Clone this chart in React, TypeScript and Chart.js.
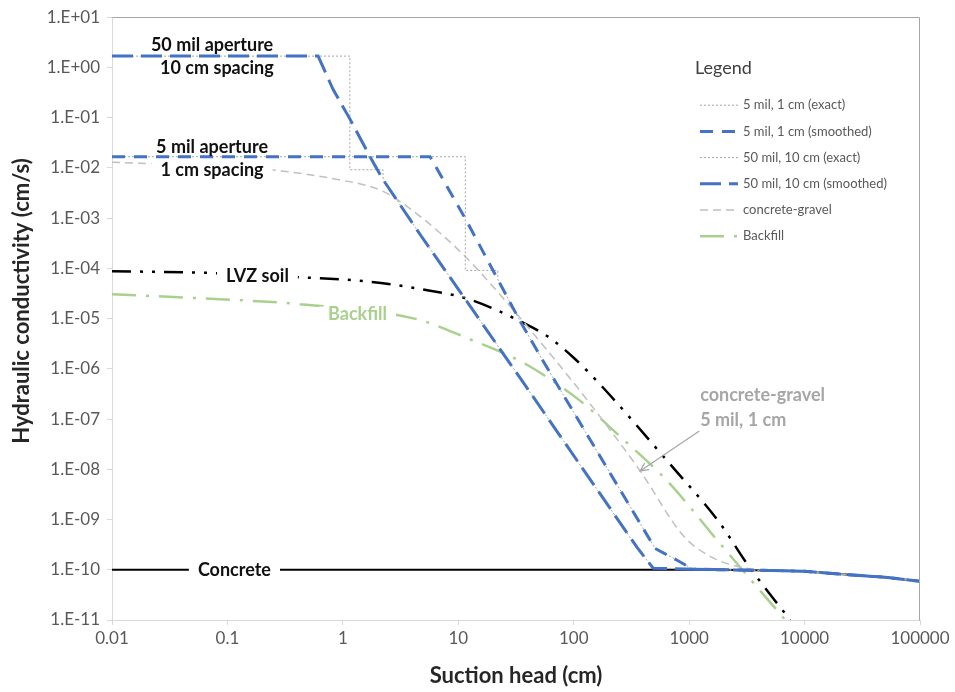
import React, { useEffect, useRef } from 'react';
import { Chart, registerables } from 'chart.js';

Chart.register(...registerables);

const FONT = "Lato, 'Open Sans', sans-serif";
const BLUE = '#4472C4';
const GREEN = '#A9D18E';
const EXACT_GRAY = '#A6A6A6';
const GRAVEL_GRAY = '#C0C0C0';

// Axis ticks
const xTickValues = [0.01, 0.1, 1, 10, 100, 1000, 10000, 100000];
const xTickLabels = ['0.01', '0.1', '1', '10', '100', '1000', '10000', '100000'];
const yTickValues = [1e-11, 1e-10, 1e-9, 1e-8, 1e-7, 1e-6, 1e-5, 1e-4, 1e-3, 1e-2, 1e-1, 1e0, 1e1];
const yTickLabels = ['1.E-11', '1.E-10', '1.E-09', '1.E-08', '1.E-07', '1.E-06', '1.E-05', '1.E-04', '1.E-03', '1.E-02', '1.E-01', '1.E+00', '1.E+01'];

// Concrete (suction head cm, K cm/s)
const concreteH = [0.01, 2000, 5000, 10000, 20000, 50000, 100000];
const concreteK = [1e-10, 1e-10, 9.7e-11, 9.3e-11, 8.2e-11, 7.1e-11, 5.9e-11];

// 5 mil aperture, 1 cm spacing
const fiveExactH = [0.01, 11.5, 11.5, 22, 22, 34.3, 54.3, 507, 787, 1084];
const fiveExactK = [0.0167, 0.0167, 9.1e-5, 9.1e-5, 6.0e-5, 8.9e-6, 1.43e-6, 2.66e-10, 1.55e-10, 1.02e-10];
const fiveSmoothH = [0.01, 5.7, 11.9, 34.3, 54.3, 507, 787, 1084];
const fiveSmoothK = [0.0167, 0.0167, 8.5e-4, 8.9e-6, 1.43e-6, 2.66e-10, 1.55e-10, 1.02e-10];

// 50 mil aperture, 10 cm spacing
const fiftyExactH = [0.01, 1.15, 1.15, 2.23, 2.23, 4.67, 34.3, 354, 488];
const fiftyExactK = [1.68, 1.68, 9.2e-3, 9.2e-3, 5.83e-3, 4.73e-4, 6.6e-7, 2.78e-10, 1.07e-10];
const fiftySmoothH = [0.01, 0.61, 0.82, 1.15, 1.72, 2.23, 4.67, 34.3, 354, 488];
const fiftySmoothK = [1.68, 1.68, 0.372, 0.0946, 0.0167, 5.83e-3, 4.73e-4, 6.6e-7, 2.78e-10, 1.07e-10];

// concrete-gravel
const gravelH = [0.01, 0.19, 0.82, 2.23, 4.67, 11.0, 21.7, 65, 139, 376, 887, 1520, 2600];
const gravelK = [0.013, 9.6e-3, 6.1e-3, 3.4e-3, 1.08e-3, 1.9e-4, 3.5e-5, 1.78e-6, 2.0e-7, 9.3e-9, 4.8e-10, 1.85e-10, 1.17e-10];

// Backfill
const backfillH = [0.01, 0.058, 0.426, 4.4, 11.9, 34.3, 60, 114, 252, 644, 1857, 6800];
const backfillK = [3.05e-5, 2.54e-5, 1.93e-5, 9.7e-6, 4.1e-6, 1.43e-6, 6.6e-7, 2.3e-7, 4.5e-8, 5.9e-9, 3.3e-10, 1e-11];

// LVZ soil
const lvzH = [0.01, 0.0706, 0.452, 1.62, 4.95, 11.9, 34.3, 62.4, 100, 180, 644, 1857, 3185, 7500];
const lvzK = [8.8e-5, 8.1e-5, 6.6e-5, 5.5e-5, 3.8e-5, 2.5e-5, 8.9e-6, 4.1e-6, 1.66e-6, 4.2e-7, 1.48e-8, 8.3e-10, 1.3e-10, 1e-11];

// Annotations (text placed at data coordinates)
const annotationTexts = ['50 mil aperture', '10 cm spacing', '5 mil aperture', '1 cm spacing', 'LVZ soil', 'Backfill', 'Concrete', 'concrete-gravel', '5 mil, 1 cm'];
const annotationH = [0.0736, 0.081, 0.0736, 0.0736, 0.182, 1.34, 0.115, 1245, 1245];
const annotationK = [2.78, 0.97, 0.0264, 9.2e-3, 6.9e-5, 1.2e-5, 1e-10, 3.0e-7, 9.6e-8];
const annotationColors = ['#111', '#111', '#111', '#111', '#111', GREEN, '#111', '#A6A6A6', '#A6A6A6'];
const annotationBg = [false, false, false, true, true, true, true, false, false];
const annotationLeftAligned = [false, false, false, false, false, false, false, true, true];
const arrowFromH = 1226;
const arrowFromK = 5.8e-8;
const arrowToH = 376;
const arrowToK = 9.3e-9;

function pts(h: number[], k: number[]) {
  return h.map((x, i) => ({ x, y: k[i] }));
}
function withTail(h: number[], k: number[]) {
  const last = h[h.length - 1];
  const th: number[] = [];
  const tk: number[] = [];
  concreteH.forEach((x, i) => {
    if (x > last) {
      th.push(x);
      tk.push(concreteK[i]);
    }
  });
  return pts([...h, ...th], [...k, ...tk]);
}

const LEGEND_COUNT = 6;

const extrasPlugin = {
  id: 'extras',
  afterDatasetsDraw(chart: any) {
    const { ctx, chartArea, scales } = chart;
    const xs = scales.x;
    const ys = scales.y;
    ctx.save();
    // plot area border (top and right)
    const L = Math.round(chartArea.left) + 0.5;
    const T = Math.round(chartArea.top) + 0.5;
    const R = Math.round(chartArea.right) - 0.5;
    const B = Math.round(chartArea.bottom) + 0.5;
    ctx.strokeStyle = '#a6a6a6';
    ctx.lineWidth = 1;
    ctx.setLineDash([]);
    ctx.beginPath();
    ctx.moveTo(L, T);
    ctx.lineTo(R, T);
    ctx.lineTo(R, B);
    ctx.stroke();

    // annotations
    annotationTexts.forEach((t, i) => {
      const px = xs.getPixelForValue(annotationH[i]);
      const py = ys.getPixelForValue(annotationK[i]);
      ctx.font = `bold 18px ${FONT}`;
      const w = ctx.measureText(t).width;
      const left = annotationLeftAligned[i] ? px : px - w / 2;
      if (annotationBg[i]) {
        ctx.fillStyle = '#ffffff';
        ctx.fillRect(left - 9, py - 8, w + 18, 16);
      }
      ctx.fillStyle = annotationColors[i];
      ctx.textAlign = 'left';
      ctx.textBaseline = 'middle';
      ctx.fillText(t, left, py);
    });

    // arrow
    const ax0 = xs.getPixelForValue(arrowFromH);
    const ay0 = ys.getPixelForValue(arrowFromK);
    const ax1 = xs.getPixelForValue(arrowToH);
    const ay1 = ys.getPixelForValue(arrowToK);
    ctx.strokeStyle = '#A6A6A6';
    ctx.lineWidth = 1.2;
    ctx.beginPath();
    ctx.moveTo(ax0, ay0);
    ctx.lineTo(ax1, ay1);
    const ang = Math.atan2(ay1 - ay0, ax1 - ax0);
    const hl = 9;
    ctx.moveTo(ax1 - hl * Math.cos(ang - 0.45), ay1 - hl * Math.sin(ang - 0.45));
    ctx.lineTo(ax1, ay1);
    ctx.lineTo(ax1 - hl * Math.cos(ang + 0.45), ay1 - hl * Math.sin(ang + 0.45));
    ctx.stroke();

    // legend
    const lx = chartArea.right - 220;
    ctx.fillStyle = '#404040';
    ctx.font = `18px ${FONT}`;
    ctx.textAlign = 'left';
    ctx.textBaseline = 'middle';
    ctx.fillText('Legend', lx - 5, chartArea.top + 51);
    chart.data.datasets.slice(0, LEGEND_COUNT).forEach((ds: any, i: number) => {
      const y = chartArea.top + 88 + i * 26.2;
      ctx.strokeStyle = ds.borderColor;
      ctx.lineWidth = ds.borderWidth;
      ctx.setLineDash(ds.borderDash || []);
      ctx.beginPath();
      ctx.moveTo(lx, y);
      ctx.lineTo(lx + 38, y);
      ctx.stroke();
      ctx.setLineDash([]);
      ctx.fillStyle = '#595959';
      ctx.font = `13px ${FONT}`;
      ctx.fillText(ds.label, lx + 43, y);
    });

    // axis titles
    ctx.fillStyle = '#262626';
    ctx.font = `bold 22px ${FONT}`;
    ctx.textAlign = 'center';
    ctx.textBaseline = 'middle';
    ctx.fillText('Suction head (cm)', (chartArea.left + chartArea.right) / 2, 676);
    ctx.translate(22, 301);
    ctx.rotate(-Math.PI / 2);
    ctx.fillText('Hydraulic conductivity (cm/s)', 0, 0);
    ctx.restore();
  },
};

function findIdx(vals: number[], v: number) {
  return vals.findIndex((t) => Math.abs(Math.log10(t) - Math.log10(v)) < 1e-6);
}

export default function App() {
  const ref = useRef<HTMLCanvasElement | null>(null);
  useEffect(() => {
    if (!ref.current) return;
    const common = { pointRadius: 0, pointHoverRadius: 0, fill: false, showLine: true };
    const chart = new Chart(ref.current, {
      type: 'scatter',
      data: {
        datasets: [
          { ...common, label: '5 mil, 1 cm (exact)', data: withTail(fiveExactH, fiveExactK), borderColor: EXACT_GRAY, borderWidth: 1, borderDash: [2, 2], tension: 0, order: 1 },
          { ...common, label: '5 mil, 1 cm (smoothed)', data: withTail(fiveSmoothH, fiveSmoothK), borderColor: BLUE, borderWidth: 3, borderDash: [13, 9], tension: 0, order: 0 },
          { ...common, label: '50 mil, 10 cm (exact)', data: withTail(fiftyExactH, fiftyExactK), borderColor: EXACT_GRAY, borderWidth: 1, borderDash: [2, 2], tension: 0, order: 1 },
          { ...common, label: '50 mil, 10 cm (smoothed)', data: withTail(fiftySmoothH, fiftySmoothK), borderColor: BLUE, borderWidth: 3, borderDash: [21, 8], tension: 0, order: 0 },
          { ...common, label: 'concrete-gravel', data: withTail(gravelH, gravelK), borderColor: GRAVEL_GRAY, borderWidth: 1.5, borderDash: [8, 5], cubicInterpolationMode: 'monotone', order: 2 },
          { ...common, label: 'Backfill', data: pts(backfillH, backfillK), borderColor: GREEN, borderWidth: 2.5, borderDash: [24, 10, 3, 10], cubicInterpolationMode: 'monotone', order: 3 },
          { ...common, label: 'LVZ soil', data: pts(lvzH, lvzK), borderColor: '#000000', borderWidth: 2.5, borderDash: [19, 9, 3, 9, 3, 9], cubicInterpolationMode: 'monotone', order: 4 },
          { ...common, label: 'Concrete', data: pts(concreteH, concreteK), borderColor: '#000000', borderWidth: 2, tension: 0, order: 5 },
        ] as any,
      },
      options: {
        responsive: false,
        animation: false,
        layout: { padding: { left: 0, top: 15, right: 35, bottom: 0 } },
        plugins: { legend: { display: false }, tooltip: { enabled: false }, title: { display: false } },
        scales: {
          x: {
            type: 'logarithmic',
            min: 0.01,
            max: 100000,
            afterBuildTicks: (s: any) => {
              s.ticks = xTickValues.map((v) => ({ value: v }));
            },
            afterFit: (s: any) => {
              s.height = 72;
            },
            ticks: {
              autoSkip: false,
              maxRotation: 0,
              padding: 3,
              color: '#595959',
              font: { family: FONT, size: 17 },
              callback: (v: any) => {
                const i = findIdx(xTickValues, Number(v));
                return i >= 0 ? xTickLabels[i] : '';
              },
            },
            grid: { display: true, drawOnChartArea: false, drawTicks: true, tickLength: 5, color: '#d9d9d9' },
            border: { display: true, color: '#d9d9d9' },
          },
          y: {
            type: 'logarithmic',
            min: 1e-11,
            max: 10,
            afterBuildTicks: (s: any) => {
              s.ticks = yTickValues.map((v) => ({ value: v }));
            },
            afterFit: (s: any) => {
              s.width = 112;
            },
            ticks: {
              autoSkip: false,
              padding: 7,
              color: '#595959',
              font: { family: FONT, size: 17 },
              callback: (v: any) => {
                const i = findIdx(yTickValues, Number(v));
                return i >= 0 ? yTickLabels[i] : '';
              },
            },
            grid: { display: true, drawOnChartArea: false, drawTicks: true, tickLength: 5, color: '#d9d9d9' },
            border: { display: true, color: '#d9d9d9' },
          },
        },
      } as any,
      plugins: [extrasPlugin],
    });
    return () => chart.destroy();
  }, []);
  return (
    <div style={{ position: 'fixed', left: 0, top: 0, width: 955, height: 692, background: '#fff' }}>
      <canvas ref={ref} width={955} height={692} style={{ display: 'block' }} />
    </div>
  );
}
